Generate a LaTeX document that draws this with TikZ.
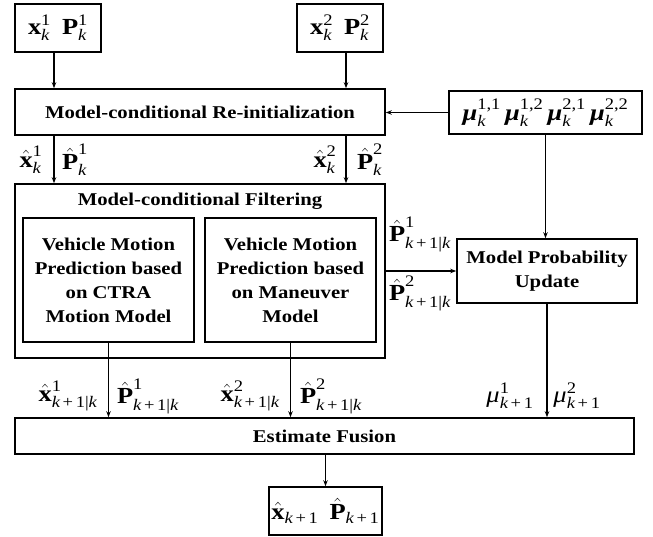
\documentclass[tikz,border=0pt]{standalone}
\usepackage{amsmath}
\usepackage{fontspec}
\setmainfont{Liberation Serif}[FakeStretch=1.15]
\usetikzlibrary{arrows.meta}
\newcommand{\BX}{\text{\bfseries x}}
\newcommand{\BP}{\text{\bfseries P}}
\newcommand{\IK}{\text{\itshape k}}
\newcommand{\KPO}{\text{\itshape k\upshape\,+\,1}}
\newcommand{\KPK}{\text{\itshape k\upshape\,+\,1|\itshape k}}
\newcommand{\MUI}{\text{\itshape μ}}
\newcommand{\BMU}{\text{\bfseries\itshape μ}}
\newcommand{\TN}[1]{\text{#1}}
\tikzset{
 box/.style={draw, line width=1.6pt, inner sep=0pt, align=center,
   font=\bfseries\fontsize{18}{24}\selectfont},
 mbox/.style={draw, line width=1.6pt, inner sep=0pt, font=\fontsize{23}{26}\selectfont},
 ibox/.style={draw, line width=1.3pt, inner sep=0pt, align=center,
   font=\bfseries\fontsize{18}{24}\selectfont},
 arr/.style={line width=1.4pt, -{Stealth[length=6pt,width=4.5pt]}},
 lbl/.style={inner sep=0pt, font=\fontsize{23}{26}\selectfont},
 ttl/.style={inner sep=0pt, font=\bfseries\fontsize{18}{24}\selectfont},
}
\begin{document}
\begin{tikzpicture}[x=1pt,y=-1pt]
\useasboundingbox (0,0) rectangle (653,537);
% boxes
\node[mbox, minimum width=86pt, minimum height=48pt] (b1) at (58,28) {$\BX_{\IK}^{\TN{1}}\;\,\BP_{\IK}^{\TN{1}}$};
\node[mbox, minimum width=86pt, minimum height=48pt] (b2) at (340,28) {$\BX_{\IK}^{\TN{2}}\;\,\BP_{\IK}^{\TN{2}}$};
\node[box, minimum width=370pt, minimum height=46pt] (reinit) at (200,112) {Model-conditional Re-initialization};
\node[mbox, minimum width=193pt, minimum height=43pt] (mu) at (545.5,112.5) {$\BMU_{\IK}^{\TN{1,1}}\,\BMU_{\IK}^{\TN{1,2}}\,\BMU_{\IK}^{\TN{2,1}}\,\BMU_{\IK}^{\TN{2,2}}$};
\node[draw, line width=1.6pt, minimum width=370pt, minimum height=174pt, inner sep=0pt] (filt) at (200,271) {};
\node[ttl] (filtt) at (200,201) {Model-conditional Filtering};
\node[ibox, minimum width=171pt, minimum height=124pt] (v1) at (108.5,280) {Vehicle Motion\\Prediction based\\on CTRA\\Motion Model};
\node[ibox, minimum width=171pt, minimum height=124pt] (v2) at (290.5,280) {Vehicle Motion\\Prediction based\\on Maneuver\\Model};
\node[box, minimum width=180pt, minimum height=64pt] (mpu) at (547,271) {Model Probability\\Update};
\node[box, minimum width=619pt, minimum height=36pt] (ef) at (324.5,436) {Estimate Fusion};
\node[mbox, minimum width=113pt, minimum height=48pt] (out) at (325.5,511) {$\hat{\BX}_{\KPO}\;\,\hat{\BP}_{\KPO}$};
% helper coordinates
\coordinate (c1) at (54,0);
\coordinate (c2) at (346,0);
% connectors
\draw[arr] (b1.south -| c1) -- (reinit.north -| c1);
\draw[arr] (b2.south -| c2) -- (reinit.north -| c2);
\draw[arr] (reinit.south -| c1) -- (filt.north -| c1);
\draw[arr] (reinit.south -| c2) -- (filt.north -| c2);
\draw[arr] (mu.west) -- (mu.west -| reinit.east);
\draw[arr] (mu.south) -- (mu.south |- mpu.north);
\draw[arr] (filt.east |- mpu.west) -- (mpu.west);
\draw[arr] (v1.south) -- (v1.south |- ef.north);
\draw[arr] (v2.south) -- (v2.south |- ef.north);
\draw[arr] (mpu.south) -- (mpu.south |- ef.north);
\draw[arr] (ef.south -| out.north) -- (out.north);
% labels
\node[lbl] (l1) at (31,160) {$\hat{\BX}_{\IK}^{\TN{1}}$};
\node[lbl] (l2) at (75,160) {$\hat{\BP}_{\IK}^{\TN{1}}$};
\node[lbl] (l3) at (325,160) {$\hat{\BX}_{\IK}^{\TN{2}}$};
\node[lbl] (l4) at (370,160) {$\hat{\BP}_{\IK}^{\TN{2}}$};
\node[lbl] (l5) at (420,234) {$\hat{\BP}_{\KPK}^{\TN{1}}$};
\node[lbl] (l6) at (420,293) {$\hat{\BP}_{\KPK}^{\TN{2}}$};
\node[lbl] (l7) at (68,396) {$\hat{\BX}_{\KPK}^{\TN{1}}$};
\node[lbl] (l8) at (148,396) {$\hat{\BP}_{\KPK}^{\TN{1}}$};
\node[lbl] (l9) at (250,396) {$\hat{\BX}_{\KPK}^{\TN{2}}$};
\node[lbl] (l10) at (331,396) {$\hat{\BP}_{\KPK}^{\TN{2}}$};
\node[lbl] (l11) at (510,396) {$\MUI_{\KPO}^{\TN{1}}$};
\node[lbl] (l12) at (577,396) {$\MUI_{\KPO}^{\TN{2}}$};
\end{tikzpicture}
\end{document}
